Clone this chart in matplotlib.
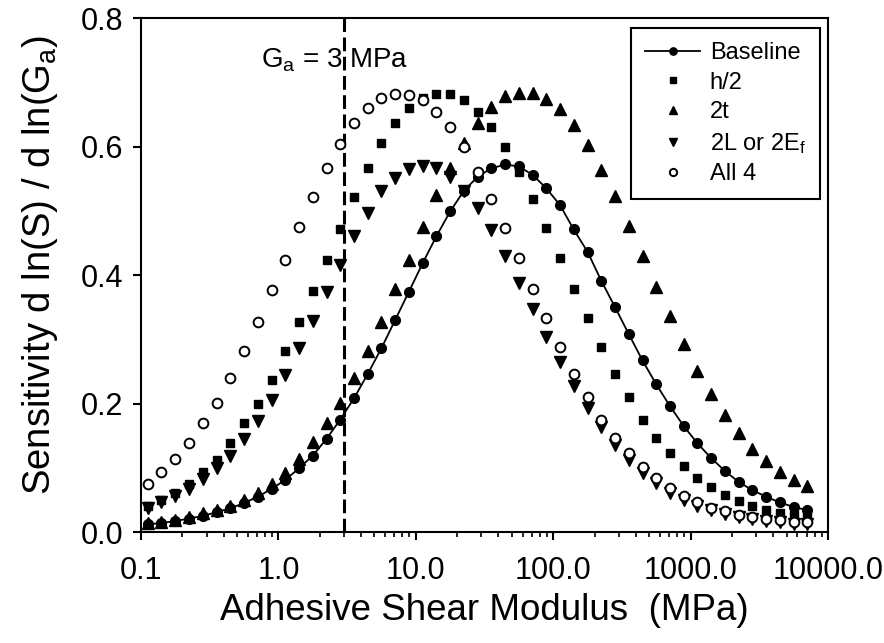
import matplotlib
matplotlib.use('Agg')
import matplotlib.pyplot as plt
from matplotlib.ticker import FixedLocator, FixedFormatter, LogLocator, NullFormatter

# ---------------- data ----------------
modulus = [0.112, 0.141, 0.178, 0.224, 0.282, 0.355, 0.447, 0.562, 0.708, 0.891,
           1.12, 1.41, 1.78, 2.24, 2.82, 3.55, 4.47, 5.62, 7.08, 8.91,
           11.2, 14.1, 17.8, 22.4, 28.2, 35.5, 44.7, 56.2, 70.8, 89.1,
           112, 141, 178, 224, 282, 355, 447, 562, 708, 891,
           1122, 1413, 1778, 2239, 2818, 3548, 4467, 5623, 7079]

baseline = [0.012, 0.014, 0.017, 0.021, 0.025, 0.031, 0.037, 0.045, 0.055, 0.067,
            0.081, 0.099, 0.119, 0.145, 0.175, 0.208, 0.246, 0.286, 0.330, 0.374,
            0.418, 0.460, 0.499, 0.531, 0.553, 0.566, 0.572, 0.569, 0.556, 0.535,
            0.509, 0.471, 0.436, 0.391, 0.350, 0.308, 0.267, 0.230, 0.196, 0.165,
            0.138, 0.115, 0.095, 0.078, 0.065, 0.055, 0.046, 0.039, 0.034]

h_half = [0.040, 0.050, 0.061, 0.074, 0.093, 0.112, 0.139, 0.169, 0.200, 0.237,
          0.281, 0.327, 0.375, 0.424, 0.472, 0.522, 0.566, 0.605, 0.636, 0.660,
          0.675, 0.681, 0.681, 0.672, 0.654, 0.631, 0.600, 0.561, 0.519, 0.473,
          0.426, 0.379, 0.333, 0.288, 0.246, 0.210, 0.175, 0.147, 0.123, 0.102,
          0.084, 0.070, 0.057, 0.048, 0.041, 0.035, 0.030, 0.026, 0.023]

two_t = [0.014, 0.016, 0.019, 0.023, 0.029, 0.035, 0.040, 0.050, 0.060, 0.075,
         0.092, 0.114, 0.140, 0.169, 0.201, 0.239, 0.281, 0.327, 0.378, 0.424,
         0.475, 0.525, 0.566, 0.605, 0.637, 0.662, 0.678, 0.684, 0.684, 0.674,
         0.658, 0.633, 0.602, 0.563, 0.523, 0.476, 0.430, 0.382, 0.336, 0.292,
         0.250, 0.215, 0.182, 0.154, 0.129, 0.111, 0.094, 0.081, 0.072]

two_L = [0.037, 0.046, 0.056, 0.067, 0.083, 0.099, 0.118, 0.144, 0.173, 0.206,
         0.244, 0.286, 0.329, 0.374, 0.416, 0.460, 0.496, 0.530, 0.551, 0.565,
         0.570, 0.566, 0.553, 0.531, 0.504, 0.470, 0.430, 0.388, 0.347, 0.304,
         0.264, 0.227, 0.193, 0.163, 0.135, 0.112, 0.092, 0.076, 0.061, 0.050,
         0.041, 0.034, 0.028, 0.023, 0.020, 0.017, 0.015, 0.013, 0.012]

all_four = [0.075, 0.094, 0.114, 0.139, 0.169, 0.201, 0.239, 0.282, 0.327, 0.376,
            0.424, 0.475, 0.522, 0.566, 0.604, 0.636, 0.660, 0.675, 0.682, 0.680,
            0.672, 0.654, 0.631, 0.600, 0.561, 0.519, 0.473, 0.426, 0.378, 0.333,
            0.288, 0.246, 0.210, 0.175, 0.147, 0.123, 0.101, 0.084, 0.068, 0.056,
            0.046, 0.038, 0.032, 0.027, 0.023, 0.020, 0.018, 0.016, 0.015]

series_labels = ['Baseline', 'h/2', '2t', r'2L or 2$\mathregular{E_f}$', 'All 4']

xtick_values = [0.1, 1, 10, 100, 1000, 10000]
xtick_labels = ['0.1', '1.0', '10.0', '100.0', '1000.0', '10000.0']
ytick_values = [0.0, 0.2, 0.4, 0.6, 0.8]
ytick_labels = ['0.0', '0.2', '0.4', '0.6', '0.8']

marked_modulus = 3.0

# ---------------- style ----------------
plt.rcParams['font.family'] = ['Liberation Sans', 'DejaVu Sans']
plt.rcParams['mathtext.fontset'] = 'custom'
plt.rcParams['mathtext.rm'] = 'Liberation Sans'
plt.rcParams['mathtext.it'] = 'Liberation Sans'

fig = plt.figure(figsize=(8.84, 6.43), dpi=100)
ax = fig.add_axes([0.1595, 0.1726, 0.7771, 0.7994])

ax.plot(modulus, baseline, '-o', color='black', lw=1.3, ms=7, label=series_labels[0], zorder=3)
ax.plot(modulus, h_half, 's', color='black', ls='none', ms=6, label=series_labels[1], zorder=3)
ax.plot(modulus, two_t, '^', color='black', ls='none', ms=8.5, label=series_labels[2], zorder=3)
ax.plot(modulus, two_L, 'v', color='black', ls='none', ms=8.5, label=series_labels[3], zorder=3)
ax.plot(modulus, all_four, 'o', mfc='white', mec='black', mew=1.4, ls='none', ms=7,
        label=series_labels[4], zorder=4)

ax.axvline(marked_modulus, color='black', lw=2.2, dashes=(4.5, 1.8), zorder=2)
ax.text(0.75, 0.735, r'$\mathregular{G_a}$ = 3 MPa', fontsize=20, ha='left', va='center')

ax.set_xscale('log')
ax.set_xlim(0.1, 10000)
ax.set_ylim(0, 0.8)

ax.xaxis.set_major_locator(FixedLocator(xtick_values))
ax.xaxis.set_major_formatter(FixedFormatter(xtick_labels))
ax.xaxis.set_minor_locator(LogLocator(base=10, subs=[2, 3, 4, 5, 6, 7, 8, 9], numticks=20))
ax.xaxis.set_minor_formatter(NullFormatter())
ax.yaxis.set_major_locator(FixedLocator(ytick_values))
ax.yaxis.set_major_formatter(FixedFormatter(ytick_labels))

ax.tick_params(which='major', direction='out', length=6, width=1.5, labelsize=22,
               top=False, right=False)
ax.tick_params(axis='x', which='major', pad=11)
ax.tick_params(axis='y', which='major', pad=7)
ax.tick_params(which='minor', direction='out', length=3.5, width=1.2, top=False, right=False)

for s in ax.spines.values():
    s.set_linewidth(1.5)

ax.set_xlabel('Adhesive Shear Modulus  (MPa)', fontsize=26.5, labelpad=5)
ax.set_ylabel(r'Sensitivity d ln(S) / d ln($\mathregular{G_a}$)', fontsize=27.5)
ax.yaxis.set_label_coords(-0.118, 0.52)

leg = ax.legend(loc='upper right', bbox_to_anchor=(0.9884, 0.9805), borderaxespad=0,
                fontsize=17, frameon=True, fancybox=False, framealpha=1,
                edgecolor='black', handlelength=2.3, handletextpad=0.42,
                labelspacing=0.32, markerscale=0.75, borderpad=0.6)
leg.get_frame().set_linewidth(1.5)

fig.savefig('out.png', dpi=100)
